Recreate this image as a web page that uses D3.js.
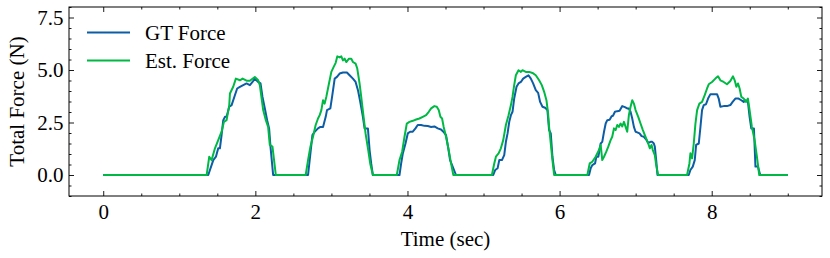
<!DOCTYPE html>
<html><head><meta charset="utf-8">
<script src="https://cdn.jsdelivr.net/npm/d3@7"></script>
<style>
html,body{margin:0;padding:0;background:#fff;}
svg text{font-family:"Liberation Serif","Times New Roman",serif;fill:#000;}
</style></head>
<body><svg id="c" width="830" height="258"></svg>
<script>
// ---- data ----
const gtTime = [0,1.381,1.403,1.447,1.482,1.512,1.534,1.556,1.578,1.600,1.622,1.657,1.688,1.731,1.761,1.797,1.840,1.884,1.928,1.963,1.993,2.037,2.068,2.094,2.125,2.155,2.181,2.199,2.234,
 2.693,2.724,2.750,2.780,2.824,2.855,2.890,2.925,2.942,2.986,3.012,3.043,3.073,3.108,3.152,3.204,3.239,3.283,3.318,3.349,3.379,3.414,3.436,3.480,3.502,3.523,3.545,
 3.895,3.917,3.939,3.974,4.004,4.035,4.070,4.105,4.135,4.179,4.223,4.267,4.311,4.354,4.398,4.441,4.472,4.507,4.533,4.560,4.594,4.638,
 5.128,5.154,5.185,5.207,5.242,5.272,5.294,5.316,5.338,5.360,5.381,5.403,5.434,5.460,5.491,5.521,5.556,5.591,5.622,5.652,5.687,5.718,5.744,5.775,5.810,5.840,5.862,5.884,5.906,5.928,5.950,
 6.387,6.409,6.430,6.466,6.483,6.509,6.540,6.561,6.584,6.606,6.627,6.658,6.684,6.702,6.728,6.758,6.789,6.824,6.859,6.889,6.911,6.933,6.955,6.977,6.999,7.021,7.051,7.078,7.108,7.139,7.165,7.196,7.218,7.239,7.252,7.270,7.287,
 7.698,7.720,7.751,7.777,7.795,7.830,7.852,7.873,7.895,7.925,7.952,7.983,8.026,8.070,8.092,8.114,8.157,8.201,8.245,8.275,8.311,8.354,8.389,8.420,8.442,8.476,8.498,8.520,8.555,8.575,8.607,8.638,9.0];
const gtForce = [0,0,0.24,0.71,0.87,1.27,1.27,1.90,2.61,2.77,2.77,3.25,3.33,3.80,4.12,4.20,4.28,4.36,4.28,4.43,4.59,4.43,4.36,3.72,3.17,2.61,2.22,1.35,0,
 0,1.03,1.90,2.06,2.22,2.29,2.29,2.77,3.09,3.17,3.80,4.59,4.67,4.83,4.88,4.88,4.75,4.59,4.43,4.04,3.48,2.77,2.22,2.22,1.19,0.55,0,
 0,0.55,1.03,1.50,1.98,2.06,2.06,2.22,2.38,2.38,2.34,2.33,2.29,2.31,2.22,2.17,2.06,1.90,1.35,0.71,0.40,0,
 0,0.24,0.32,0.71,0.71,0.95,1.58,1.98,2.53,2.85,3.01,3.64,4.20,4.36,4.43,4.59,4.67,4.75,4.59,4.36,4.04,3.91,3.48,3.25,3.20,3.09,2.14,1.98,0.87,0.24,0,
 0,0.32,0.47,0.55,0.87,0.87,1.50,1.58,2.06,2.45,2.61,2.63,2.80,2.82,3.01,3.04,3.06,3.28,3.23,3.17,3.17,3.01,2.69,2.29,2.06,2.03,1.98,1.85,1.82,1.69,1.53,1.58,1.58,1.50,1.35,0.71,0,
 0,0.24,0.40,0.71,1.43,1.50,2.29,3.09,3.33,3.37,3.64,3.85,3.85,3.85,3.64,3.25,3.28,3.28,3.33,3.48,3.64,3.64,3.56,3.48,3.56,3.48,2.77,2.22,2.22,0.40,0.40,0,0];

const estTime = [0,1.360,1.394,1.425,1.469,1.512,1.556,1.587,1.622,1.657,1.666,1.709,1.744,1.797,1.832,1.884,1.928,1.993,2.037,2.059,2.103,2.138,2.168,2.190,2.225,2.269,
 2.662,2.693,2.724,2.758,2.793,2.824,2.846,2.868,2.890,2.911,2.933,2.968,2.999,3.030,3.056,3.078,3.108,3.130,3.152,3.174,3.196,3.231,3.261,3.283,3.318,3.340,3.370,3.392,3.423,3.449,3.484,3.510,3.545,
 3.860,3.895,3.930,3.961,3.991,4.026,4.070,4.114,4.157,4.201,4.245,4.280,4.311,4.354,4.385,4.411,4.433,4.455,4.476,4.507,4.542,4.573,4.603,
 5.110,5.141,5.163,5.198,5.228,5.259,5.294,5.329,5.360,5.381,5.403,5.425,5.460,5.491,5.512,5.556,5.600,5.643,5.687,5.731,5.766,5.797,5.827,5.849,5.862,5.884,5.906,5.928,
 6.365,6.396,6.430,6.474,6.518,6.540,6.561,6.584,6.614,6.640,6.671,6.692,6.715,6.737,6.758,6.780,6.802,6.824,6.846,6.868,6.889,6.911,6.933,6.955,6.977,6.999,7.034,7.064,7.095,7.130,7.165,7.187,7.209,7.226,7.252,7.270,7.296,
 7.676,7.707,7.720,7.742,7.764,7.786,7.808,7.838,7.873,7.908,7.939,7.961,8.004,8.048,8.083,8.114,8.157,8.201,8.245,8.280,8.302,8.324,8.345,8.367,8.389,8.420,8.450,8.476,8.498,8.528,8.564,8.594,8.625,9.0];
const estForce = [0,0,0.87,0.71,1.27,1.66,2.06,2.53,2.61,3.33,3.88,4.20,4.59,4.51,4.59,4.49,4.49,4.67,4.51,4.28,3.09,2.61,2.29,1.43,1.35,0,
 0,0.71,1.35,1.82,2.38,2.69,2.85,3.09,3.56,3.40,3.72,4.36,4.91,5.15,5.34,5.65,5.60,5.65,5.46,5.54,5.38,5.54,5.54,5.38,5.30,5.07,4.36,3.72,2.77,1.98,1.19,0.55,0,
 0,0.71,1.11,1.82,2.45,2.53,2.58,2.64,2.69,2.77,2.85,3.01,3.17,3.28,3.25,3.09,2.77,2.69,2.29,1.82,1.19,0.55,0,
 0,0.55,0.87,1.03,1.27,1.66,2.38,2.85,3.33,3.72,4.28,4.75,4.99,4.91,4.99,4.91,4.91,4.86,4.75,4.51,4.28,3.96,3.56,2.93,2.29,1.50,0.71,0,
 0,0.55,0.63,0.87,1.19,1.43,0.71,0.87,1.11,1.35,1.66,1.82,2.22,2.14,2.38,2.29,2.45,2.31,2.53,2.29,2.06,2.85,3.25,3.56,3.40,3.09,2.77,2.45,2.14,1.82,1.50,1.27,1.43,1.19,0.95,0.47,0,
 0,0.55,1.03,0.79,1.50,2.45,3.09,3.40,3.48,3.80,4.12,4.32,4.43,4.59,4.70,4.51,4.43,4.32,4.48,4.70,4.51,4.20,4.36,4.12,3.72,3.64,3.48,3.64,3.09,2.29,1.66,0.87,0,0];

const xMajor = [0,2,4,6,8];
const yMajor = [0,2.5,5,7.5];
const yLabels = ["0.0","2.5","5.0","7.5"];
const seriesNames = ["GT Force","Est. Force"];
const seriesColors = ["#0C5DA5","#00B945"];

// ---- layout ----
const L=69, R=822, T=7, B=196, FS="21px";
const svg = d3.select("#c");
const x = d3.scaleLinear().domain([-0.45,9.45]).range([L,R]);
const y = d3.scaleLinear().domain([-1,8]).range([B,T]);

const xMinor = d3.range(0,9.5,0.5).filter(v=>!xMajor.includes(v));
const yMinor = d3.range(-1,8.01,0.5).filter(v=>!yMajor.includes(v));

const line = d3.line().x(d=>x(d[0])).y(d=>y(d[1]));
const series = [d3.zip(gtTime,gtForce), d3.zip(estTime,estForce)];

svg.append("clipPath").attr("id","clp").append("rect")
  .attr("x",L).attr("y",T).attr("width",R-L).attr("height",B-T);

const g = svg.append("g").attr("clip-path","url(#clp)");
series.forEach((s,i)=>{
  g.append("path").datum(s).attr("d",line).attr("fill","none")
   .attr("stroke",seriesColors[i]).attr("stroke-width",2).attr("stroke-linejoin","round");
});

function styleAxis(sel){
  sel.select(".domain").remove();
  sel.selectAll("line").attr("stroke","#000").attr("stroke-width",0.9);
  sel.selectAll("text").attr("font-size",FS).attr("font-family","Liberation Serif, serif").attr("fill","#000");
}
// bottom
svg.append("g").attr("transform",`translate(0,${B})`)
  .call(d3.axisBottom(x).tickValues(xMajor).tickSize(-5).tickPadding(8.5).tickFormat(d3.format("d"))).call(styleAxis);
svg.append("g").attr("transform",`translate(0,${B})`)
  .call(d3.axisBottom(x).tickValues(xMinor).tickSize(-2.5).tickFormat("")).call(styleAxis);
// top
svg.append("g").attr("transform",`translate(0,${T})`)
  .call(d3.axisTop(x).tickValues(xMajor).tickSize(-5).tickFormat("")).call(styleAxis);
svg.append("g").attr("transform",`translate(0,${T})`)
  .call(d3.axisTop(x).tickValues(xMinor).tickSize(-2.5).tickFormat("")).call(styleAxis);
// left
svg.append("g").attr("transform",`translate(${L},0)`)
  .call(d3.axisLeft(y).tickValues(yMajor).tickSize(-5).tickPadding(5.5).tickFormat((d,i)=>yLabels[i])).call(styleAxis);
svg.append("g").attr("transform",`translate(${L},0)`)
  .call(d3.axisLeft(y).tickValues(yMinor).tickSize(-2.5).tickFormat("")).call(styleAxis);
// right
svg.append("g").attr("transform",`translate(${R},0)`)
  .call(d3.axisRight(y).tickValues(yMajor).tickSize(-5).tickFormat("")).call(styleAxis);
svg.append("g").attr("transform",`translate(${R},0)`)
  .call(d3.axisRight(y).tickValues(yMinor).tickSize(-2.5).tickFormat("")).call(styleAxis);

// frame
svg.append("rect").attr("x",L).attr("y",T).attr("width",R-L).attr("height",B-T)
  .attr("fill","none").attr("stroke","#000").attr("stroke-width",1);

// axis labels
svg.append("text").attr("x",(L+R)/2).attr("y",246).attr("text-anchor","middle")
  .attr("font-size",FS).text("Time (sec)");
svg.append("text").attr("transform",`translate(24,${(T+B)/2}) rotate(-90)`).attr("text-anchor","middle")
  .attr("font-size",FS).text("Total Force (N)");

// legend
const legY=[32.5,60.5];
seriesNames.forEach((n,i)=>{
  svg.append("line").attr("x1",87).attr("x2",130).attr("y1",legY[i]).attr("y2",legY[i])
    .attr("stroke",seriesColors[i]).attr("stroke-width",2);
  svg.append("text").attr("x",145).attr("y",legY[i]+7.5).attr("font-size",FS).text(n);
});
</script></body></html>
